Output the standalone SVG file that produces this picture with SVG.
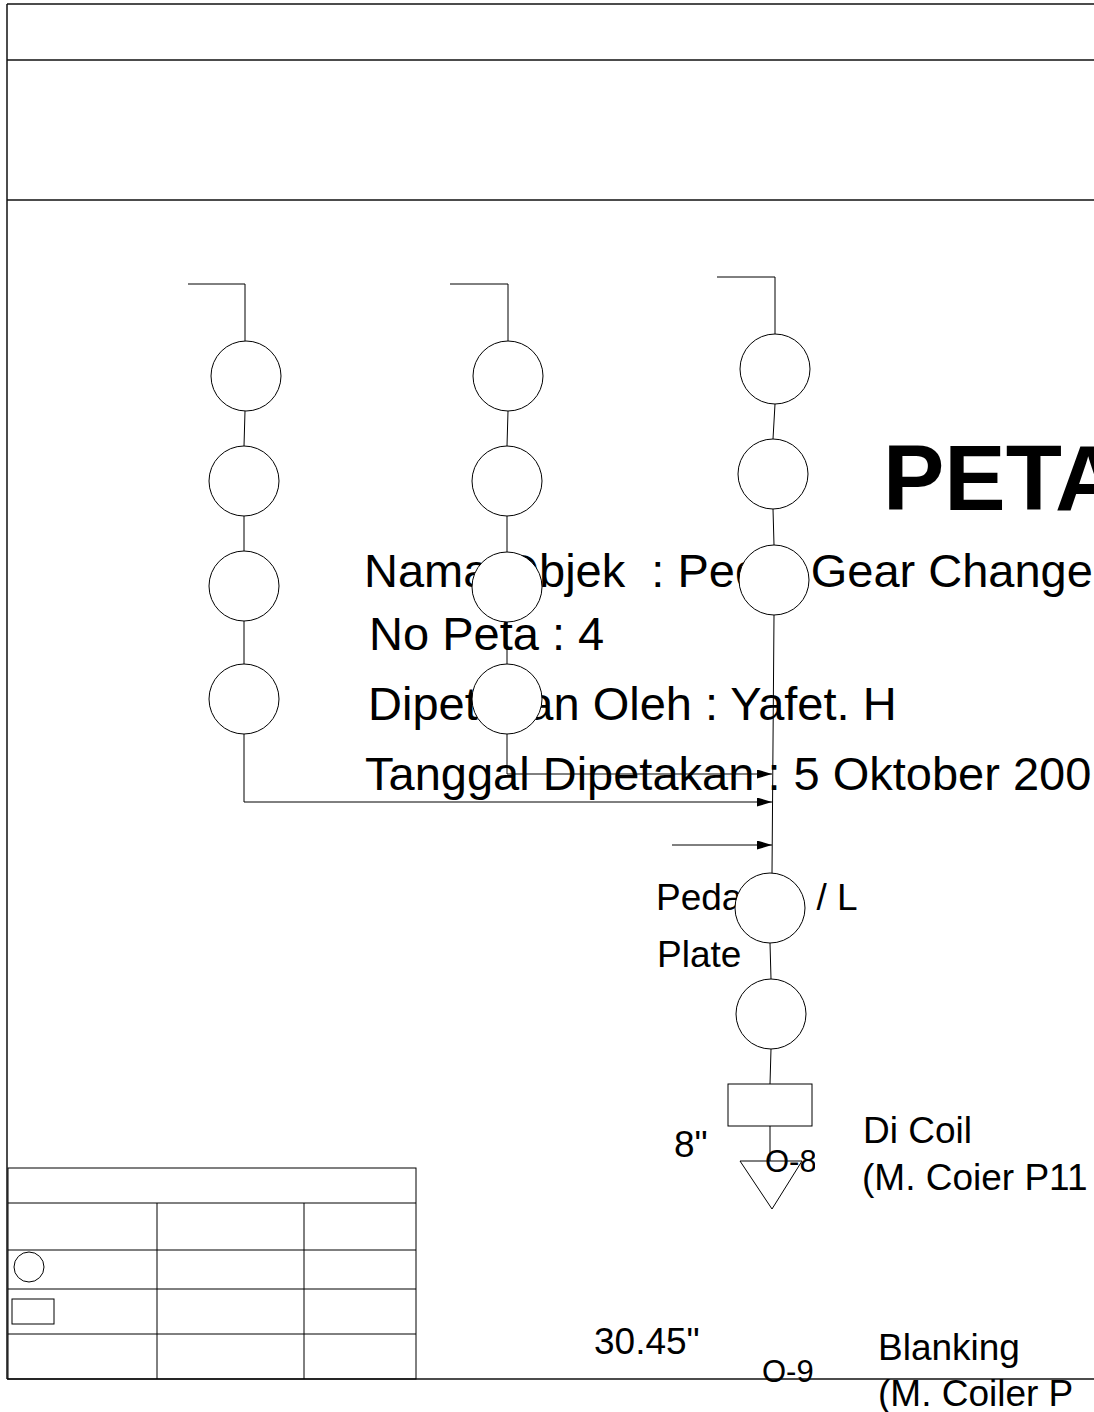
<svg xmlns="http://www.w3.org/2000/svg" width="1094" height="1412" viewBox="0 0 1094 1412">
<style>
.frame{stroke:#111;stroke-width:1.5;fill:none}
.ln{stroke:#000;stroke-width:1;fill:none}
.nd{stroke:#000;stroke-width:1;fill:#fff}
.t{font-family:"Liberation Sans",Arial,sans-serif;fill:#000;white-space:pre}
.big{font-size:47px}
.mid{font-size:37px}
.sm{font-size:31px}
</style>
<defs>
<marker id="ah" markerWidth="15" markerHeight="9" refX="15" refY="4.5" orient="auto" markerUnits="userSpaceOnUse">
<path d="M0,0 L15,4.5 L0,9 Z" fill="#000"/>
</marker>
<clipPath id="clipO"><rect x="700" y="1100" width="115" height="312"/></clipPath>
</defs>
<rect width="1094" height="1412" fill="#fff"/>
<g id="frame">
<line class="frame" x1="7" y1="4" x2="7" y2="1379"/>
<line class="frame" x1="7" y1="4" x2="1094" y2="4"/>
<line class="frame" x1="7" y1="60" x2="1094" y2="60"/>
<line class="frame" x1="7" y1="200" x2="1094" y2="200"/>
<line class="frame" x1="7" y1="1379" x2="1094" y2="1379"/>
</g>
<g id="legend">
<rect class="ln" x="8" y="1168" width="408" height="211"/>
<line class="ln" x1="8" y1="1203" x2="416" y2="1203"/>
<line class="ln" x1="8" y1="1250" x2="416" y2="1250"/>
<line class="ln" x1="8" y1="1289" x2="416" y2="1289"/>
<line class="ln" x1="8" y1="1334" x2="416" y2="1334"/>
<line class="ln" x1="157" y1="1203" x2="157" y2="1379"/>
<line class="ln" x1="304" y1="1203" x2="304" y2="1379"/>
<circle class="nd" cx="29" cy="1267" r="15"/>
<rect class="nd" x="12" y="1299" width="42" height="25"/>
</g>
<g id="texts">
<text class="t" x="883" y="510" font-size="92" font-weight="bold">PETA</text>
<text class="t big" x="364" y="587">Nama Objek  : Pedal Gear Change</text>
<text class="t big" x="369" y="650">No Peta : 4</text>
<text class="t big" x="368" y="720">Dipetakan Oleh : Yafet. H</text>
<text class="t big" x="365" y="790">Tanggal Dipetakan : 5 Oktober 200</text>
<text class="t mid" x="656" y="910">Pedal W  / L</text>
<text class="t mid" x="657" y="967">Plate</text>
<text class="t mid" x="674" y="1157">8"</text>
<text class="t mid" x="863" y="1143">Di Coil</text>
<text class="t mid" x="862" y="1190">(M. Coier P11</text>
<text class="t mid" x="594" y="1354">30.45"</text>
<text class="t mid" x="878" y="1360">Blanking</text>
<text class="t mid" x="878" y="1406">(M. Coiler P</text>
</g>
<g id="connectors">
<polyline class="ln" points="188,284 245,284 245,341"/>
<line class="ln" x1="245" y1="411" x2="244" y2="446"/>
<line class="ln" x1="244" y1="516" x2="244" y2="551"/>
<line class="ln" x1="244" y1="621" x2="244" y2="664"/>
<polyline class="ln" points="244,734 244,802 772,802" marker-end="url(#ah)"/>
<polyline class="ln" points="450,284 508,284 508,341"/>
<line class="ln" x1="508" y1="411" x2="507" y2="446"/>
<line class="ln" x1="507" y1="516" x2="507" y2="552"/>
<line class="ln" x1="507" y1="622" x2="507" y2="664"/>
<polyline class="ln" points="507,734 507,774 772,774" marker-end="url(#ah)"/>
<polyline class="ln" points="717,277 775,277 775,334"/>
<line class="ln" x1="775" y1="404" x2="773" y2="439"/>
<line class="ln" x1="773" y1="509" x2="774" y2="545"/>
<line class="ln" x1="774" y1="615" x2="772" y2="873"/>
<line class="ln" x1="672" y1="845" x2="772" y2="845" marker-end="url(#ah)"/>
<line class="ln" x1="770" y1="943" x2="771" y2="979"/>
<line class="ln" x1="771" y1="1049" x2="770" y2="1084"/>
<line class="ln" x1="770" y1="1126" x2="770" y2="1161"/>
</g>
<g id="col1">
<g id="c1-1"><ellipse class="nd" cx="246" cy="376" rx="35" ry="35"/></g>
<g id="c1-2"><ellipse class="nd" cx="244" cy="481" rx="35" ry="35"/></g>
<g id="c1-3"><ellipse class="nd" cx="244" cy="586" rx="35" ry="35"/></g>
<g id="c1-4"><ellipse class="nd" cx="244" cy="699" rx="35" ry="35"/></g>
</g>
<g id="col2">
<g id="c2-1"><ellipse class="nd" cx="508" cy="376" rx="35" ry="35"/></g>
<g id="c2-2"><ellipse class="nd" cx="507" cy="481" rx="35" ry="35"/></g>
<g id="c2-3"><ellipse class="nd" cx="507" cy="587" rx="35" ry="35"/></g>
<g id="c2-4"><ellipse class="nd" cx="507" cy="699" rx="35" ry="35"/></g>
</g>
<g id="col3">
<g id="c3-1"><ellipse class="nd" cx="775" cy="369" rx="35" ry="35"/></g>
<g id="c3-2"><ellipse class="nd" cx="773" cy="474" rx="35" ry="35"/></g>
<g id="c3-3"><ellipse class="nd" cx="774" cy="580" rx="35" ry="35"/></g>
<g id="c3-4"><ellipse class="nd" cx="770" cy="908" rx="35" ry="35"/></g>
<g id="c3-5"><ellipse class="nd" cx="771" cy="1014" rx="35" ry="35"/></g>
<g id="r1"><rect class="nd" x="728" y="1084" width="84" height="42"/></g>
<g id="tri"><polygon class="ln" points="740,1161 802,1161 772,1209"/></g>
</g>
<g id="op-labels" clip-path="url(#clipO)">
<text class="t sm" x="765" y="1172">O-8</text>
<text class="t sm" x="762" y="1382">O-9</text>
</g>
</svg>
